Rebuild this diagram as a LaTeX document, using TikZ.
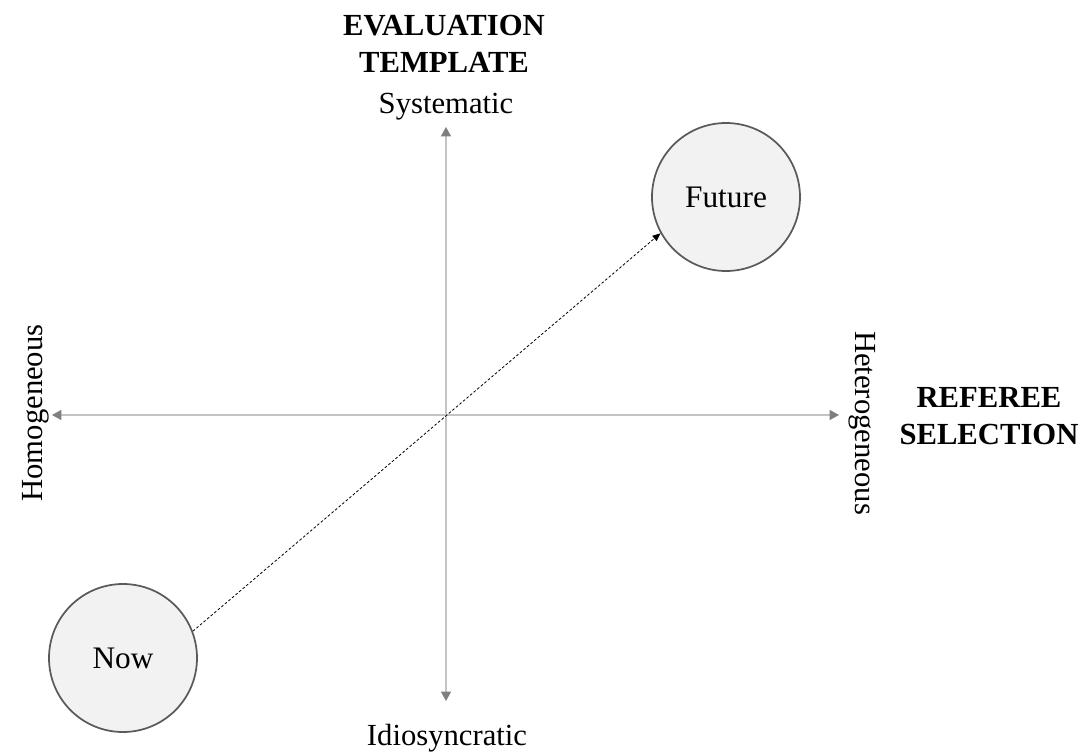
\documentclass[tikz,border=0pt]{standalone}
\usepackage{fontspec}
\setmainfont{Liberation Serif}
\usepackage{tikz}
\usetikzlibrary{arrows.meta}
\definecolor{axisline}{HTML}{C4C4C4}
\definecolor{tipgray}{HTML}{7F7F7F}
\definecolor{stagefill}{HTML}{F2F2F2}
\definecolor{stageline}{HTML}{5A5A5A}

\begin{document}
\begin{tikzpicture}[x=0.75pt, y=-0.75pt,
  axisend/.tip={Triangle[length=7pt, width=7.5pt, color=tipgray]},
  axis/.style={draw=axisline, line width=0.9pt, axisend-axisend},
  pole/.style={font=\fontsize{23}{27}\selectfont, anchor=base, inner sep=0pt},
  title/.style={font=\fontsize{23}{27.75}\selectfont\bfseries, align=center, inner sep=0pt},
  stage/.style={circle, draw=stageline, fill=stagefill, line width=1.3pt, minimum size=111pt,
    font=\fontsize{23.5}{27}\selectfont}]
\useasboundingbox (0,0) rectangle (1083,753);
\coordinate (north) at (446,127);
\coordinate (south) at (446,701);
\coordinate (west) at (52,415);
\coordinate (east) at (839,415);
\draw[axis] (south) -- (north);
\draw[axis] (west) -- (east);
\begin{scope}[every node/.style={pole}]
  \node (sys) at (446,113) {Systematic};
  \node (idio) at (447,745) {Idiosyncratic};
  \node[rotate=90] (homo) at (42,413) {Homogeneous};
  \node[rotate=-90] (hetero) at (855,423) {Heterogeneous};
\end{scope}
% anchor=base sits on the last line
\node[title, anchor=base] (evaltitle) at (444,72) {EVALUATION\\TEMPLATE};
\node[title, anchor=base] (reftitle) at (989,444) {REFEREE\\SELECTION};
\node[stage] (now) at (123,658) {Now};
\node[stage] (future) at (726,197) {Future};
\draw[line width=0.6pt, dash pattern=on 2pt off 1.5pt, -{Triangle[length=6pt, width=5pt]}] (now.21) -- (future.209);
\end{tikzpicture}
\end{document}
